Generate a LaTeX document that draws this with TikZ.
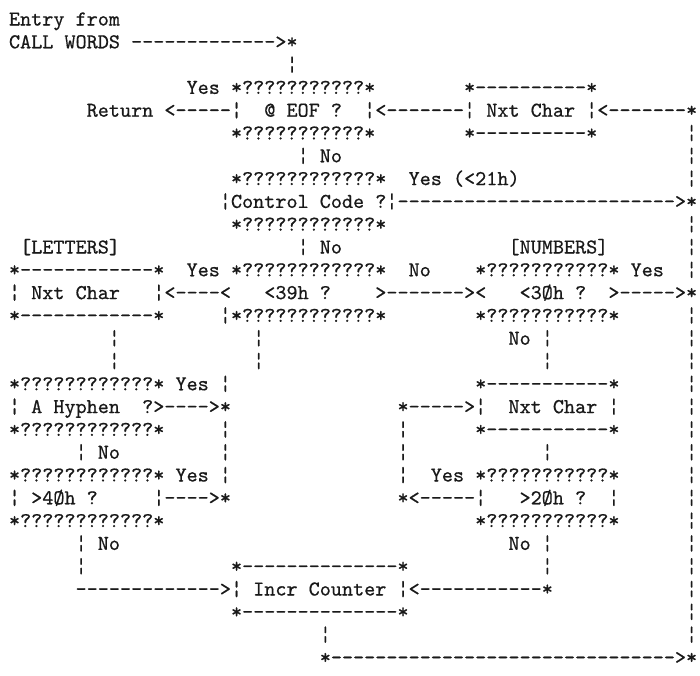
\documentclass[tikz,border=0pt]{standalone}
\usepackage{fontspec}
\setmonofont{Latin Modern Mono}[FakeBold=0.6]
\newcommand\asciifont{\ttfamily\fontsize{10.57pt}{11.4pt}\selectfont}
\begin{document}
\begin{tikzpicture}[x=5.55pt,y=-11.4pt,
  txt/.style={anchor=base west,inner sep=0pt,outer sep=0pt,font=\asciifont,text=black!90}]
\useasboundingbox (0,0) rectangle (63.0631,29.6053);
\begin{scope}[shift={(0.8108,0.1184)}]
% row 1-3
\node[txt] (r1a) at (0,1) {Entry~from};
\node[txt] (r2a) at (0,2) {CALL~WORDS};
\node[txt] (r2b) at (11,2) {------------->*};
\node[txt] (r3a) at (25,3) {¦};
% row 4-6 : @ EOF ? and Nxt Char
\node[txt] (r4a) at (16,4) {Yes};
\node[txt] (eofT) at (20,4) {*???????????*};
\node[txt] (nc1T) at (41,4) {*----------*};
\node[txt] (r5a) at (7,5) {Return};
\node[txt] (r5b) at (14,5) {<-----};
\node[txt] (eofM) at (20,5) {¦~~@~EOF~?~~¦};
\node[txt] (r5c) at (33,5) {<-------};
\node[txt] (nc1M) at (41,5) {¦~Nxt~Char~¦};
\node[txt] (r5d) at (53,5) {<-------*};
\node[txt] (eofB) at (20,6) {*???????????*};
\node[txt] (nc1B) at (41,6) {*----------*};
\node[txt] (r6a) at (61,6) {¦};
% row 7-10 : Control Code ?
\node[txt] (r7a) at (26,7) {¦~No};
\node[txt] (r7b) at (61,7) {¦};
\node[txt] (ccT) at (20,8) {*????????????*};
\node[txt] (r8a) at (36,8) {Yes~(<21h)};
\node[txt] (r8b) at (61,8) {¦};
\node[txt] (ccM) at (19,9) {¦Control~Code~?¦};
\node[txt] (r9a) at (35,9) {------------------------->*};
\node[txt] (ccB) at (20,10) {*????????????*};
\node[txt] (r10a) at (61,10) {¦};
% row 11-14 : letters / <39h / <30h
\node[txt] (r11a) at (1,11) {[LETTERS]};
\node[txt] (r11b) at (26,11) {¦~No};
\node[txt] (r11c) at (45,11) {[NUMBERS]};
\node[txt] (r11d) at (61,11) {¦};
\node[txt] (nc2T) at (0,12) {*------------*};
\node[txt] (r12a) at (16,12) {Yes};
\node[txt] (h39T) at (20,12) {*????????????*};
\node[txt] (r12b) at (36,12) {No};
\node[txt] (h30T) at (42,12) {*???????????*};
\node[txt] (r12c) at (56,12) {Yes};
\node[txt] (r12d) at (61,12) {¦};
\node[txt] (nc2M) at (0,13) {¦~Nxt~Char~~~¦};
\node[txt] (r13a) at (14,13) {<----<};
\node[txt] (h39M) at (23,13) {<39h~?};
\node[txt] (r13b) at (33,13) {>------->};
\node[txt] (r13c) at (42,13) {<};
\node[txt] (h30M) at (46,13) {<3Øh~?};
\node[txt] (r13d) at (54,13) {>----->*};
\node[txt] (nc2B) at (0,14) {*------------*};
\node[txt] (h39B) at (19,14) {¦*????????????*};
\node[txt] (h30B) at (42,14) {*???????????*};
\node[txt] (r14a) at (61,14) {¦};
% row 15-16
\node[txt] (r15a) at (9,15) {¦};
\node[txt] (r15b) at (22,15) {¦};
\node[txt] (r15c) at (45,15) {No~¦};
\node[txt] (r15d) at (61,15) {¦};
\node[txt] (r16a) at (9,16) {¦};
\node[txt] (r16b) at (22,16) {¦};
\node[txt] (r16c) at (48,16) {¦};
\node[txt] (r16d) at (61,16) {¦};
% row 17-19 : A Hyphen ? / Nxt Char
\node[txt] (hyT) at (0,17) {*????????????*};
\node[txt] (r17a) at (15,17) {Yes~¦};
\node[txt] (nc3T) at (42,17) {*-----------*};
\node[txt] (r17b) at (61,17) {¦};
\node[txt] (hyM) at (0,18) {¦~A~Hyphen~~?>---->*};
\node[txt] (nc3M) at (35,18) {*----->¦~~Nxt~Char~¦};
\node[txt] (r18a) at (61,18) {¦};
\node[txt] (hyB) at (0,19) {*????????????*};
\node[txt] (r19a) at (19,19) {¦};
\node[txt] (r19b) at (35,19) {¦};
\node[txt] (nc3B) at (42,19) {*-----------*};
\node[txt] (r19c) at (61,19) {¦};
% row 20-23 : >40h ? / >20h ?
\node[txt] (r20a) at (6,20) {¦~No};
\node[txt] (r20b) at (19,20) {¦};
\node[txt] (r20c) at (35,20) {¦};
\node[txt] (r20d) at (48,20) {¦};
\node[txt] (r20e) at (61,20) {¦};
\node[txt] (g40T) at (0,21) {*????????????*};
\node[txt] (r21a) at (15,21) {Yes~¦};
\node[txt] (r21b) at (35,21) {¦};
\node[txt] (r21c) at (38,21) {Yes};
\node[txt] (g20T) at (42,21) {*???????????*};
\node[txt] (r21d) at (61,21) {¦};
\node[txt] (g40M) at (0,22) {¦~>4Øh~?~~~~~¦---->*};
\node[txt] (g20M) at (35,22) {*<-----¦~~~>2Øh~?~~¦};
\node[txt] (r22a) at (61,22) {¦};
\node[txt] (g40B) at (0,23) {*????????????*};
\node[txt] (g20B) at (42,23) {*???????????*};
\node[txt] (r23a) at (61,23) {¦};
% row 24-29 : Incr Counter
\node[txt] (r24a) at (6,24) {¦~No};
\node[txt] (r24b) at (45,24) {No~¦};
\node[txt] (r24c) at (61,24) {¦};
\node[txt] (r25a) at (6,25) {¦};
\node[txt] (icT) at (20,25) {*--------------*};
\node[txt] (r25b) at (48,25) {¦};
\node[txt] (r25c) at (61,25) {¦};
\node[txt] (r26a) at (6,26) {------------->};
\node[txt] (icM) at (20,26) {¦~Incr~Counter~¦};
\node[txt] (r26b) at (36,26) {<-----------*};
\node[txt] (r26c) at (61,26) {¦};
\node[txt] (icB) at (20,27) {*--------------*};
\node[txt] (r27a) at (61,27) {¦};
\node[txt] (r28a) at (28,28) {¦};
\node[txt] (r28b) at (61,28) {¦};
\node[txt] (r29a) at (28,29) {*------------------------------->*};
\end{scope}
\end{tikzpicture}
\end{document}
